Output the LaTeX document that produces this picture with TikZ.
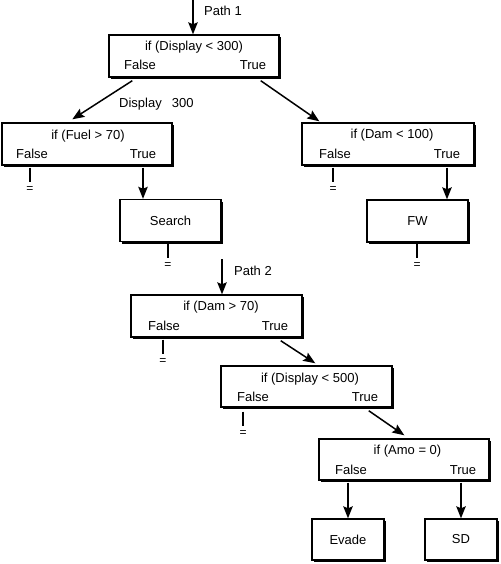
\documentclass[tikz,border=0pt]{standalone}
\usepackage{fontspec}
\setmainfont{Liberation Sans}
\usetikzlibrary{arrows.meta, shadows}

\begin{document}
\begin{tikzpicture}[x=1pt, y=-1pt,
  every node/.style={font=\fontsize{13}{15}\selectfont, inner sep=0pt},
  box/.style={draw=black, line width=1.4pt, fill=white, minimum width=#1, minimum height=42pt,
    drop shadow={shadow xshift=2.2pt, shadow yshift=-2.2pt, fill=black, opacity=1}},
  box/.default=170pt,
  arr/.style={line width=1.5pt, -{Stealth[length=12pt, width=9.5pt, inset=2pt]}},
  stub/.style={line width=1.5pt},
  eq/.style={font=\fontsize{12}{14}\selectfont}]
  \useasboundingbox (0,0) rectangle (500,564);

  % Path 1
  \coordinate (p1) at (193,0);
  \node[anchor=west] (p1l) at (204,11) {Path 1};

  % if (Display < 300)
  \node[box] (d1) at (194,56) {};
  \node (d1c) at (194,47) {if (Display < 300)};
  \node (d1f) at (140,65) {False};
  \node (d1t) at (253,65) {True};
  \draw[arr] (p1) -- (p1 |- d1.north);

  % if (Fuel > 70)
  \node[box] (d2) at (87,144) {};
  \node (d2c) at (88,136) {if (Fuel > 70)};
  \node (d2f) at (32,154) {False};
  \node (d2t) at (143,154) {True};
  \node[anchor=west] (d1l) at (119,104) {Display\hspace{10pt}300};
  \draw[arr] ([shift={(24,3)}]d1.south west) -- ([shift={(71,-3)}]d2.north west);

  % if (Dam < 100)
  \node[box=172pt] (d3) at (388,144) {};
  \node (d3c) at (392,135) {if (Dam < 100)};
  \node (d3f) at (335,154) {False};
  \node (d3t) at (447,154) {True};
  \draw[arr] ([shift={(-19,3)}]d1.south east) -- ([shift={(18,-1)}]d3.north west);

  % Search / FW
  \node[box=101pt] (search) at (170.5,220.5) {Search};
  \node[box=101pt] (fw) at (417.5,221) {FW};
  \draw[arr] ([yshift=-2pt]d2t |- d2.south) -- (d2t |- search.north);
  \draw[arr] ([yshift=-2pt]d3t |- d3.south) -- (d3t |- fw.north);

  % Empty ends, row 1
  \node[eq] (e1) at (30,190) {=};
  \node[eq] (e2) at (333,190) {=};
  \node[eq] (e3) at (168,266) {=};
  \node[eq] (e4) at (417,266) {=};
  \draw[stub] ([yshift=-2pt]e1 |- d2.south) -- ([yshift=5pt]e1.north);
  \draw[stub] ([yshift=-2pt]e2 |- d3.south) -- ([yshift=5pt]e2.north);
  \draw[stub] ([yshift=-1pt]e3 |- search.south) -- ([yshift=5pt]e3.north);
  \draw[stub] ([yshift=-1pt]e4 |- fw.south) -- ([yshift=5pt]e4.north);

  % Path 2
  \coordinate (p2) at (222,259);
  \node[anchor=west] (p2l) at (234,271) {Path 2};

  % if (Dam > 70)
  \node[box=171pt] (d4) at (216.5,316) {};
  \node (d4c) at (221,307) {if (Dam > 70)};
  \node (d4f) at (164,326) {False};
  \node (d4t) at (275,326) {True};
  \draw[arr] (p2) -- (p2 |- d4.north);

  % if (Display < 500)
  \node[box=171pt, minimum height=41pt] (d5) at (306.5,386.5) {};
  \node (d5c) at (310,379) {if (Display < 500)};
  \node (d5f) at (253,397) {False};
  \node (d5t) at (365,397) {True};
  \draw[arr] ([shift={(-22,3)}]d4.south east) -- ([shift={(95,-2)}]d5.north west);

  % if (Amo = 0)
  \node[box, minimum height=41pt] (d6) at (404,459.5) {};
  \node (d6c) at (407.5,451) {if (Amo = 0)};
  \node (d6f) at (351,470) {False};
  \node (d6t) at (463,470) {True};
  \draw[arr] ([shift={(-24,3)}]d5.south east) -- ([shift={(86,-3)}]d6.north west);

  % Evade / SD
  \node[box=72pt, minimum height=41pt] (evade) at (348,539.5) {Evade};
  \node[box=72pt, minimum height=41pt] (sd) at (461,539.5) {SD};
  \draw[arr] ([yshift=-2pt]evade |- d6.south) -- (evade.north);
  \draw[arr] ([yshift=-2pt]sd |- d6.south) -- (sd.north);

  % Empty ends, row 2
  \node[eq] (e5) at (163,362) {=};
  \node[eq] (e6) at (243,434) {=};
  \draw[stub] ([yshift=-2pt]e5 |- d4.south) -- ([yshift=5pt]e5.north);
  \draw[stub] ([yshift=-4pt]e6 |- d5.south) -- ([yshift=5pt]e6.north);
\end{tikzpicture}
\end{document}
